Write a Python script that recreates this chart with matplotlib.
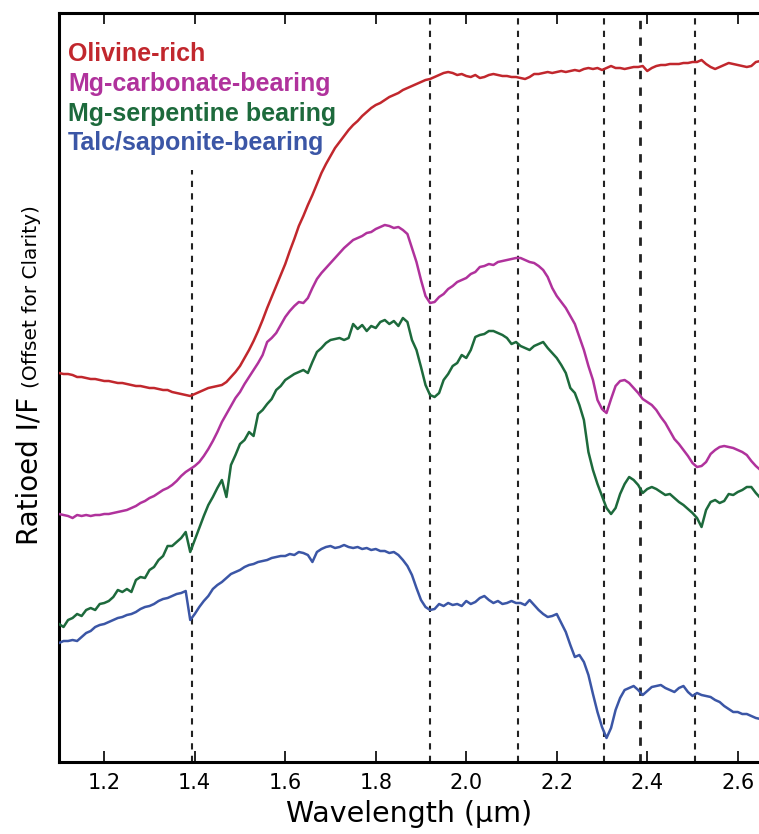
import matplotlib
matplotlib.use("Agg")
import matplotlib.pyplot as plt

# wavelength grid of the ratioed spectra (micrometres)
wavelength = [
    1.10, 1.11, 1.12, 1.13, 1.14, 1.15, 1.16, 1.17, 1.18, 1.19,
    1.20, 1.21, 1.22, 1.23, 1.24, 1.25, 1.26, 1.27, 1.28, 1.29,
    1.30, 1.31, 1.32, 1.33, 1.34, 1.35, 1.36, 1.37, 1.38, 1.39,
    1.40, 1.41, 1.42, 1.43, 1.44, 1.45, 1.46, 1.47, 1.48, 1.49,
    1.50, 1.51, 1.52, 1.53, 1.54, 1.55, 1.56, 1.57, 1.58, 1.59,
    1.60, 1.61, 1.62, 1.63, 1.64, 1.65, 1.66, 1.67, 1.68, 1.69,
    1.70, 1.71, 1.72, 1.73, 1.74, 1.75, 1.76, 1.77, 1.78, 1.79,
    1.80, 1.81, 1.82, 1.83, 1.84, 1.85, 1.86, 1.87, 1.88, 1.89,
    1.90, 1.91, 1.92, 1.93, 1.94, 1.95, 1.96, 1.97, 1.98, 1.99,
    2.00, 2.01, 2.02, 2.03, 2.04, 2.05, 2.06, 2.07, 2.08, 2.09,
    2.10, 2.11, 2.12, 2.13, 2.14, 2.15, 2.16, 2.17, 2.18, 2.19,
    2.20, 2.21, 2.22, 2.23, 2.24, 2.25, 2.26, 2.27, 2.28, 2.29,
    2.30, 2.31, 2.32, 2.33, 2.34, 2.35, 2.36, 2.37, 2.38, 2.39,
    2.40, 2.41, 2.42, 2.43, 2.44, 2.45, 2.46, 2.47, 2.48, 2.49,
    2.50, 2.51, 2.52, 2.53, 2.54, 2.55, 2.56, 2.57, 2.58, 2.59,
    2.60, 2.61, 2.62, 2.63, 2.64, 2.65,
]

# ratioed I/F, each spectrum already shifted for clarity
olivine = [
    0.389, 0.388, 0.388, 0.387, 0.385, 0.385, 0.384, 0.383, 0.383, 0.382,
    0.381, 0.381, 0.380, 0.379, 0.379, 0.378, 0.377, 0.376, 0.376, 0.375,
    0.374, 0.374, 0.373, 0.372, 0.372, 0.370, 0.369, 0.368, 0.367, 0.366,
    0.368, 0.370, 0.372, 0.374, 0.375, 0.376, 0.377, 0.380, 0.385, 0.390,
    0.396, 0.404, 0.412, 0.421, 0.431, 0.442, 0.454, 0.465, 0.476, 0.487,
    0.498, 0.511, 0.523, 0.536, 0.546, 0.557, 0.567, 0.578, 0.589, 0.598,
    0.606, 0.614, 0.620, 0.626, 0.632, 0.637, 0.641, 0.646, 0.650, 0.654,
    0.657, 0.659, 0.662, 0.665, 0.667, 0.669, 0.672, 0.674, 0.676, 0.678,
    0.680, 0.682, 0.683, 0.685, 0.687, 0.689, 0.690, 0.689, 0.687, 0.688,
    0.686, 0.685, 0.687, 0.684, 0.685, 0.687, 0.688, 0.687, 0.686, 0.686,
    0.685, 0.685, 0.684, 0.683, 0.685, 0.688, 0.688, 0.689, 0.690, 0.689,
    0.690, 0.691, 0.690, 0.691, 0.692, 0.691, 0.693, 0.694, 0.693, 0.694,
    0.692, 0.694, 0.696, 0.694, 0.694, 0.693, 0.694, 0.695, 0.695, 0.696,
    0.691, 0.694, 0.696, 0.697, 0.697, 0.698, 0.698, 0.698, 0.699, 0.699,
    0.700, 0.700, 0.702, 0.698, 0.695, 0.693, 0.695, 0.697, 0.699, 0.698,
    0.697, 0.696, 0.695, 0.696, 0.700, 0.701,
]
carbonate = [
    0.248, 0.247, 0.246, 0.244, 0.247, 0.246, 0.247, 0.246, 0.247, 0.247,
    0.248, 0.248, 0.249, 0.250, 0.251, 0.252, 0.254, 0.256, 0.259, 0.261,
    0.264, 0.266, 0.269, 0.272, 0.274, 0.277, 0.281, 0.286, 0.290, 0.293,
    0.296, 0.300, 0.306, 0.313, 0.321, 0.330, 0.340, 0.348, 0.356, 0.364,
    0.370, 0.378, 0.385, 0.392, 0.399, 0.407, 0.420, 0.424, 0.429, 0.437,
    0.445, 0.451, 0.456, 0.460, 0.459, 0.464, 0.474, 0.483, 0.489, 0.494,
    0.499, 0.504, 0.509, 0.514, 0.518, 0.522, 0.524, 0.526, 0.529, 0.530,
    0.533, 0.535, 0.537, 0.536, 0.534, 0.535, 0.532, 0.528, 0.514, 0.500,
    0.482, 0.466, 0.459, 0.460, 0.465, 0.468, 0.473, 0.476, 0.480, 0.482,
    0.484, 0.488, 0.490, 0.495, 0.496, 0.498, 0.497, 0.500, 0.501, 0.502,
    0.503, 0.504, 0.504, 0.502, 0.500, 0.499, 0.496, 0.492, 0.485, 0.474,
    0.466, 0.460, 0.454, 0.446, 0.438, 0.425, 0.412, 0.396, 0.382, 0.362,
    0.353, 0.349, 0.363, 0.376, 0.381, 0.382, 0.379, 0.374, 0.369, 0.363,
    0.360, 0.357, 0.352, 0.345, 0.339, 0.331, 0.323, 0.318, 0.312, 0.306,
    0.299, 0.295, 0.296, 0.300, 0.308, 0.312, 0.315, 0.316, 0.315, 0.314,
    0.312, 0.310, 0.307, 0.301, 0.296, 0.292,
]
serpentine = [
    0.138, 0.135, 0.142, 0.144, 0.148, 0.146, 0.152, 0.154, 0.152, 0.158,
    0.159, 0.161, 0.165, 0.172, 0.170, 0.173, 0.170, 0.182, 0.185, 0.184,
    0.192, 0.195, 0.202, 0.206, 0.216, 0.216, 0.220, 0.224, 0.230, 0.210,
    0.222, 0.234, 0.246, 0.257, 0.265, 0.274, 0.282, 0.265, 0.297, 0.307,
    0.318, 0.322, 0.330, 0.326, 0.348, 0.352, 0.358, 0.363, 0.372, 0.376,
    0.382, 0.385, 0.388, 0.390, 0.392, 0.389, 0.400, 0.410, 0.414, 0.419,
    0.422, 0.423, 0.424, 0.422, 0.424, 0.438, 0.433, 0.437, 0.431, 0.436,
    0.434, 0.440, 0.442, 0.438, 0.441, 0.436, 0.444, 0.440, 0.422, 0.412,
    0.395, 0.377, 0.367, 0.365, 0.369, 0.382, 0.388, 0.396, 0.399, 0.407,
    0.404, 0.412, 0.425, 0.427, 0.428, 0.431, 0.431, 0.429, 0.427, 0.424,
    0.418, 0.420, 0.416, 0.414, 0.412, 0.416, 0.418, 0.420, 0.414, 0.409,
    0.404, 0.397, 0.389, 0.374, 0.369, 0.357, 0.342, 0.310, 0.292, 0.278,
    0.266, 0.254, 0.248, 0.254, 0.268, 0.278, 0.285, 0.282, 0.277, 0.269,
    0.273, 0.275, 0.273, 0.270, 0.267, 0.268, 0.264, 0.260, 0.257, 0.253,
    0.249, 0.244, 0.235, 0.252, 0.260, 0.262, 0.259, 0.261, 0.268, 0.267,
    0.270, 0.272, 0.275, 0.275, 0.269, 0.264,
]
talc = [
    0.119, 0.121, 0.121, 0.122, 0.121, 0.125, 0.129, 0.131, 0.135, 0.137,
    0.138, 0.140, 0.142, 0.144, 0.145, 0.147, 0.148, 0.150, 0.153, 0.155,
    0.156, 0.158, 0.161, 0.163, 0.164, 0.166, 0.168, 0.169, 0.171, 0.142,
    0.148, 0.155, 0.161, 0.166, 0.173, 0.177, 0.180, 0.184, 0.188, 0.190,
    0.192, 0.195, 0.197, 0.198, 0.200, 0.201, 0.202, 0.204, 0.205, 0.206,
    0.206, 0.208, 0.207, 0.210, 0.209, 0.207, 0.200, 0.210, 0.213, 0.215,
    0.216, 0.214, 0.215, 0.217, 0.215, 0.214, 0.215, 0.213, 0.214, 0.212,
    0.213, 0.211, 0.211, 0.209, 0.210, 0.207, 0.202, 0.196, 0.187, 0.174,
    0.162, 0.155, 0.152, 0.153, 0.158, 0.156, 0.159, 0.157, 0.158, 0.156,
    0.161, 0.158, 0.160, 0.164, 0.166, 0.162, 0.159, 0.161, 0.158, 0.159,
    0.161, 0.159, 0.159, 0.157, 0.162, 0.157, 0.152, 0.148, 0.145, 0.146,
    0.148, 0.139, 0.130, 0.117, 0.105, 0.107, 0.100, 0.087, 0.068, 0.050,
    0.035, 0.024, 0.034, 0.052, 0.064, 0.072, 0.074, 0.076, 0.072, 0.067,
    0.071, 0.075, 0.076, 0.077, 0.074, 0.072, 0.070, 0.074, 0.076, 0.070,
    0.066, 0.069, 0.067, 0.066, 0.065, 0.062, 0.060, 0.056, 0.053, 0.050,
    0.050, 0.048, 0.048, 0.046, 0.044, 0.043,
]

series_names = ["Olivine-rich", "Mg-carbonate-bearing",
                "Mg-serpentine bearing", "Talc/saponite-bearing"]
series_colors = ["#c1272d", "#b0329c", "#1d6a3c", "#3b56a6"]

# absorption band positions marked with dashed lines
band_centers = [1.92, 2.115, 2.305, 2.385, 2.505]
band_139 = 1.393
band_139_top = 0.592

fig = plt.figure(figsize=(7.59, 8.34), dpi=100)
ax = fig.add_axes([59 / 759, 1 - 762 / 834, 1 - 59 / 759, (762 - 13) / 834])

for x in band_centers:
    lw = 2.0 if x == 2.385 else 1.5
    ax.axvline(x, color="#222222", lw=lw, ls=(0, (3, 3)), zorder=1)
ax.vlines(band_139, 0, band_139_top, color="#222222", lw=1.5,
          linestyles=[(0, (3, 3))], zorder=1)

for y, c in zip([olivine, carbonate, serpentine, talc], series_colors):
    ax.plot(wavelength, y, color=c, lw=1.8, zorder=3)

ax.set_xlim(1.1, 1.1 + 700 / 452.5)
ax.set_ylim(0, 0.749)
ax.set_xticks([1.2, 1.4, 1.6, 1.8, 2.0, 2.2, 2.4, 2.6])
ax.set_xticklabels(["1.2", "1.4", "1.6", "1.8", "2.0", "2.2", "2.4", "2.6"],
                   fontsize=15)
ax.set_yticks([])
ax.tick_params(axis="x", direction="in", top=True, length=8, width=1.2, pad=8)
ax.spines["right"].set_visible(False)
for s in ["left", "top", "bottom"]:
    ax.spines[s].set_linewidth(2.2)

ax.set_xlabel("Wavelength (µm)", fontsize=20.5, labelpad=5)

fig.text(37 / 759, 1 - 545 / 834, "Ratioed I/F", rotation=90,
         rotation_mode="anchor", ha="left", va="baseline", fontsize=20)
fig.text(37 / 759, 1 - 388 / 834, "(Offset for Clarity)", rotation=90,
         rotation_mode="anchor", ha="left", va="baseline", fontsize=14.5)

baselines = [61, 91, 121, 150]
for name, c, b in zip(series_names, series_colors, baselines):
    fig.text(68 / 759, 1 - b / 834, name, color=c, fontsize=18,
             fontweight="bold", fontfamily="Liberation Sans", va="baseline")

fig.savefig("out.png", dpi=100)
